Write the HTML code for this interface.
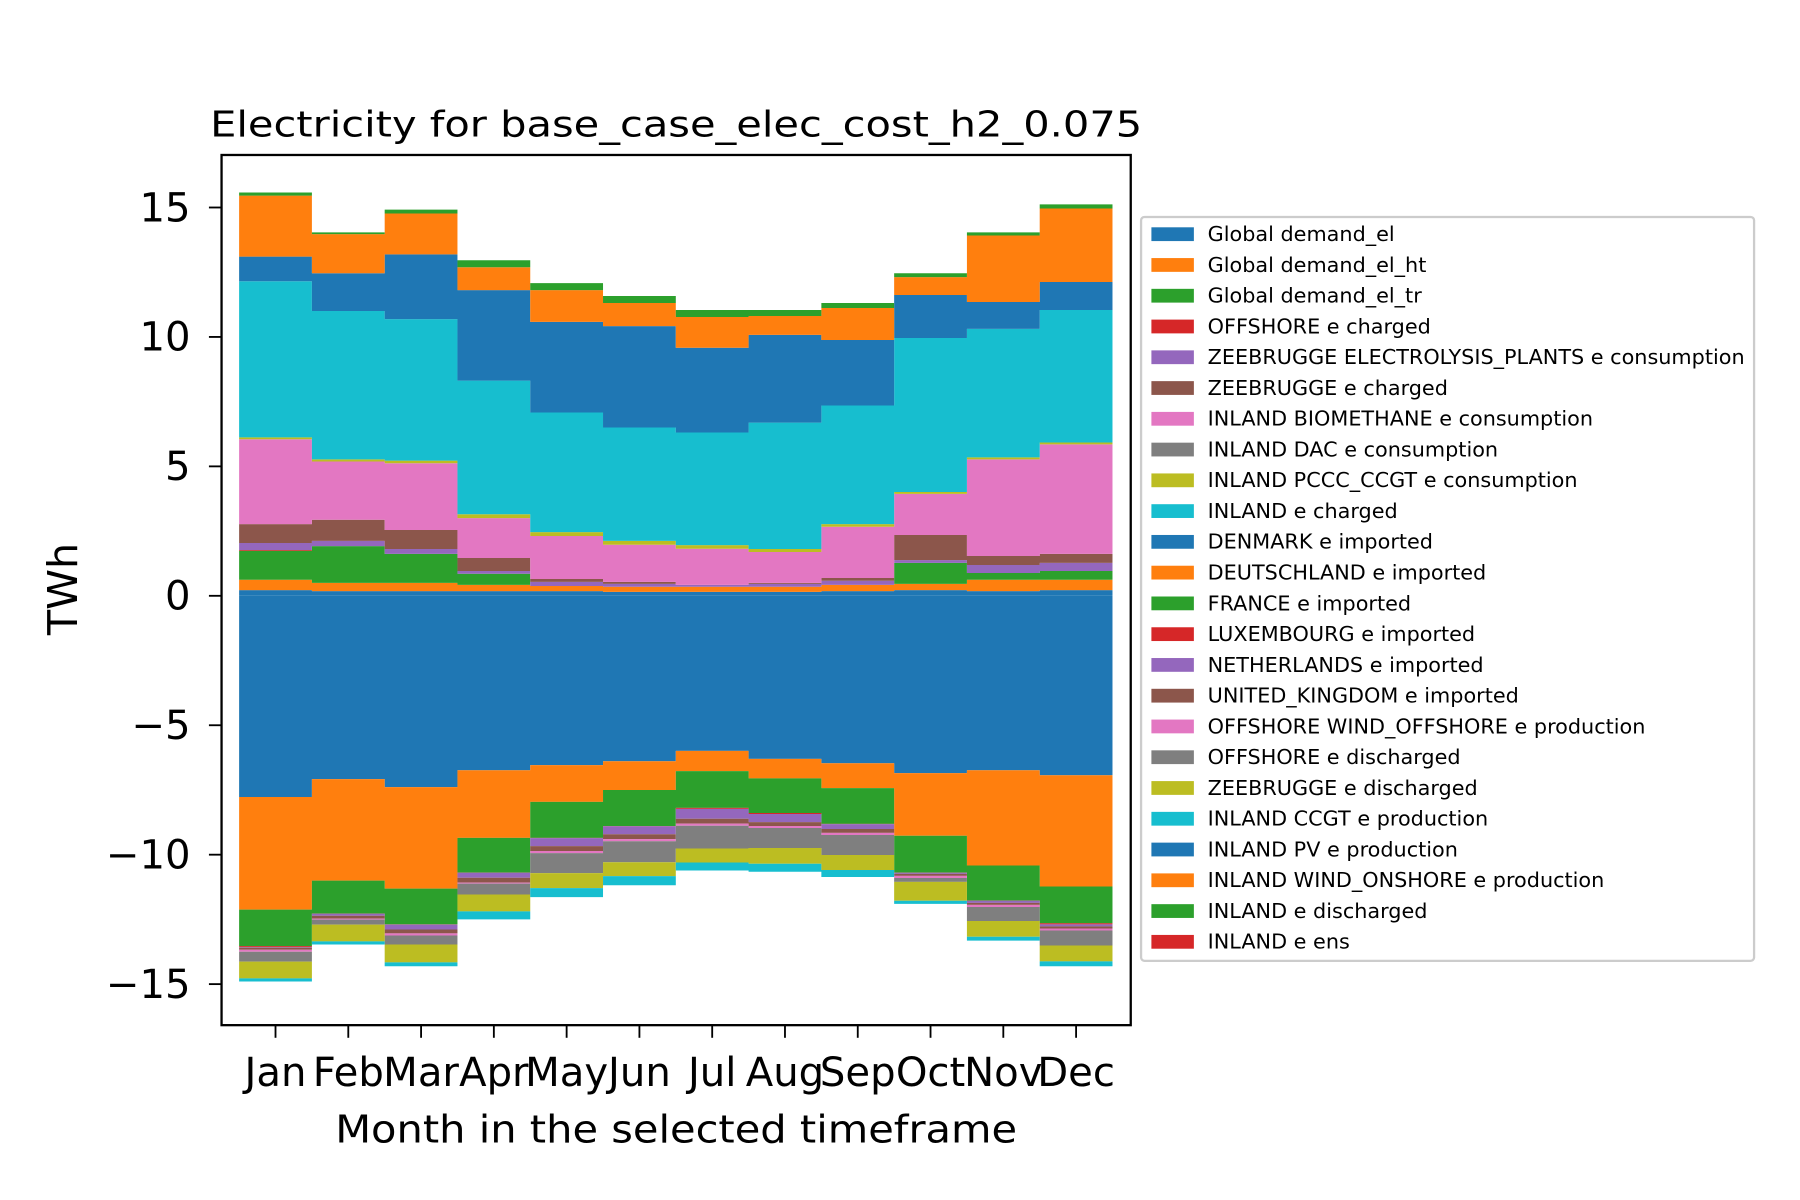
<!DOCTYPE html>
<html><head><meta charset="utf-8"><style>
html,body{margin:0;padding:0;background:#fff}
svg{display:block;font-family:"DejaVu Sans","Liberation Sans",sans-serif}
</style></head><body>
<svg id="chart" xmlns="http://www.w3.org/2000/svg" width="1800" height="1200" viewBox="0 0 1568 1045.3" preserveAspectRatio="none">
<rect width="1568" height="1046" fill="#fff"/>
<g id="marks"></g>
<rect x="193" y="135" width="792" height="758" fill="none" stroke="#000" stroke-width="2"/>
<g id="yaxis"></g>
<g id="xaxis"></g>
<text x="589" y="119" font-size="31" text-anchor="middle" textLength="812" lengthAdjust="spacingAndGlyphs">Electricity for base_case_elec_cost_h2_0.075</text>
<text x="589" y="995" font-size="33" text-anchor="middle" textLength="594" lengthAdjust="spacingAndGlyphs">Month in the selected timeframe</text>
<text transform="translate(67,513) rotate(-90)" font-size="36" text-anchor="middle">TWh</text>
<rect x="994" y="189" width="534" height="648" rx="3" fill="#fff" stroke="#ccc" stroke-width="2"/>
<g id="legend"></g>
</svg>
<script>
const months=["Jan","Feb","Mar","Apr","May","Jun","Jul","Aug","Sep","Oct","Nov","Dec"];
const yTicks=[15,10,5,0,-5,-10,-15];
const yTickLabels=["15","10","5","0","\u22125","\u221210","\u221215"];
// negative (consumption) series, magnitudes TWh
const globalDemandEl=[7.77,7.08,7.39,6.74,6.54,6.39,5.99,6.30,6.47,6.85,6.74,6.93];
const globalDemandElHt=[4.35,3.92,3.92,2.61,1.42,1.11,0.78,0.75,0.96,2.42,3.68,4.30];
const globalDemandElTr=[1.41,1.27,1.38,1.34,1.39,1.39,1.42,1.34,1.38,1.42,1.35,1.42];
const offshoreCharged=[0.04,0.01,0.01,0.01,0.01,0.01,0.04,0.04,0.01,0.01,0.01,0.04];
const zeeElectrolysis=[0.02,0.08,0.19,0.19,0.31,0.31,0.38,0.31,0.19,0.04,0.08,0.08];
const zeeCharged=[0.08,0.11,0.15,0.19,0.19,0.19,0.19,0.15,0.15,0.08,0.08,0.08];
const inlandBiomethane=[0.08,0.04,0.08,0.04,0.08,0.08,0.08,0.08,0.08,0.08,0.08,0.08];
const inlandDac=[0.38,0.19,0.35,0.42,0.77,0.81,0.88,0.77,0.77,0.15,0.54,0.58];
const inlandPccc=[0.65,0.65,0.69,0.65,0.58,0.54,0.54,0.61,0.58,0.73,0.61,0.61];
const inlandCharged=[0.12,0.12,0.15,0.31,0.35,0.35,0.31,0.31,0.27,0.12,0.15,0.19];
// positive (supply) series
const denmarkImp=[0.22,0.18,0.18,0.18,0.18,0.15,0.15,0.15,0.18,0.22,0.18,0.22];
const deutschlandImp=[0.40,0.32,0.32,0.24,0.20,0.20,0.20,0.20,0.24,0.24,0.44,0.40];
const franceImp=[1.12,1.42,1.12,0.43,0,0,0,0,0,0.81,0.26,0.34];
const luxImp=[0.03,0,0,0,0,0,0,0,0,0,0,0];
const netherlandsImp=[0.27,0.20,0.19,0.11,0.16,0.11,0.07,0.11,0.16,0.11,0.31,0.31];
const ukImp=[0.73,0.82,0.73,0.50,0.11,0.08,0,0.04,0.11,0.97,0.35,0.35];
const offshoreWind=[3.28,2.25,2.58,1.54,1.66,1.43,1.40,1.19,1.98,1.59,3.73,4.23];
const offshoreDis=[0,0,0,0,0,0,0,0,0,0,0,0];
const zeeDis=[0.07,0.08,0.10,0.15,0.15,0.15,0.14,0.12,0.10,0.07,0.08,0.07];
const inlandCcgt=[6.03,5.73,5.47,5.16,4.62,4.38,4.35,4.88,4.58,5.95,4.96,5.12];
const inlandPv=[0.95,1.46,2.50,3.50,3.50,3.92,3.27,3.39,2.53,1.66,1.04,1.08];
const inlandOnshore=[2.36,1.51,1.58,0.88,1.23,0.89,1.19,0.73,1.24,0.69,2.57,2.84];
const inlandDis=[0.12,0.07,0.15,0.27,0.27,0.27,0.27,0.23,0.19,0.15,0.12,0.16];
const inlandEns=[0,0,0,0,0,0,0,0,0,0,0,0];

const C=["#1f77b4","#ff7f0e","#2ca02c","#d62728","#9467bd","#8c564b","#e377c2","#7f7f7f","#bcbd22","#17becf"];
const negSeries=[["Global demand_el",globalDemandEl],["Global demand_el_ht",globalDemandElHt],["Global demand_el_tr",globalDemandElTr],["OFFSHORE e charged",offshoreCharged],["ZEEBRUGGE ELECTROLYSIS_PLANTS e consumption",zeeElectrolysis],["ZEEBRUGGE e charged",zeeCharged],["INLAND BIOMETHANE e consumption",inlandBiomethane],["INLAND DAC e consumption",inlandDac],["INLAND PCCC_CCGT e consumption",inlandPccc],["INLAND e charged",inlandCharged]];
const posSeries=[["DENMARK e imported",denmarkImp],["DEUTSCHLAND e imported",deutschlandImp],["FRANCE e imported",franceImp],["LUXEMBOURG e imported",luxImp],["NETHERLANDS e imported",netherlandsImp],["UNITED_KINGDOM e imported",ukImp],["OFFSHORE WIND_OFFSHORE e production",offshoreWind],["OFFSHORE e discharged",offshoreDis],["ZEEBRUGGE e discharged",zeeDis],["INLAND CCGT e production",inlandCcgt],["INLAND PV e production",inlandPv],["INLAND WIND_ONSHORE e production",inlandOnshore],["INLAND e discharged",inlandDis],["INLAND e ens",inlandEns]];

const NS="http://www.w3.org/2000/svg";
const X0=240,DX=63.4,Y0=519,KY=22.55;
const xs=i=>X0+DX*i;
const ys=v=>Y0-KY*v;
function mk(t,a){const e=document.createElementNS(NS,t);for(const k in a)e.setAttribute(k,a[k]);return e;}
const marks=document.getElementById('marks');
function stack(series,sign,offset){
  let base=months.map(()=>0);
  series.forEach((s,si)=>{
    const vals=s[1];
    const top=base.map((b,i)=>b+sign*vals[i]);
    let d="";
    months.forEach((m,i)=>{const xl=xs(i-0.5),xr=xs(i+0.5);d+=(i?"L":"M")+xl+","+ys(top[i])+"L"+xr+","+ys(top[i]);});
    for(let i=months.length-1;i>=0;i--){d+="L"+xs(i+0.5)+","+ys(base[i])+"L"+xs(i-0.5)+","+ys(base[i]);}
    d+="Z";
    const p=mk('path',{d:d,fill:C[(si+offset)%10]});
    
    
    marks.appendChild(p);
    base=top;
  });
}
stack(negSeries,-1,0);
stack(posSeries,1,0);

const ya=document.getElementById('yaxis');
yTicks.forEach((v,i)=>{
  const l=mk('line',{x1:182,x2:193,y1:ys(v),y2:ys(v),stroke:"#000","stroke-width":1.6});
  
  
  ya.appendChild(l);
  const t=mk('text',{x:166,y:ys(v)+12,"font-size":35,"text-anchor":"end"});
  
  
  t.textContent=yTickLabels[i];ya.appendChild(t);
});
const xa=document.getElementById('xaxis');
months.forEach((m,i)=>{
  const l=mk('line',{x1:xs(i),x2:xs(i),y1:893,y2:904,stroke:"#000","stroke-width":1.6});
  
  
  xa.appendChild(l);
  const t=mk('text',{x:xs(i),y:946,"font-size":35,"text-anchor":"middle"});
  
  
  t.textContent=m;xa.appendChild(t);
});
const lg=document.getElementById('legend');
negSeries.concat(posSeries).forEach((s,i)=>{
  const y=204+26.8*i;
  const r=mk('rect',{x:1003,y:y-6,width:37,height:12,fill:C[i%10]});
  
  
  lg.appendChild(r);
  const t=mk('text',{x:1052,y:y+6,"font-size":18.1});
  
  
  t.textContent=s[0];lg.appendChild(t);
});
</script>
</body></html>
